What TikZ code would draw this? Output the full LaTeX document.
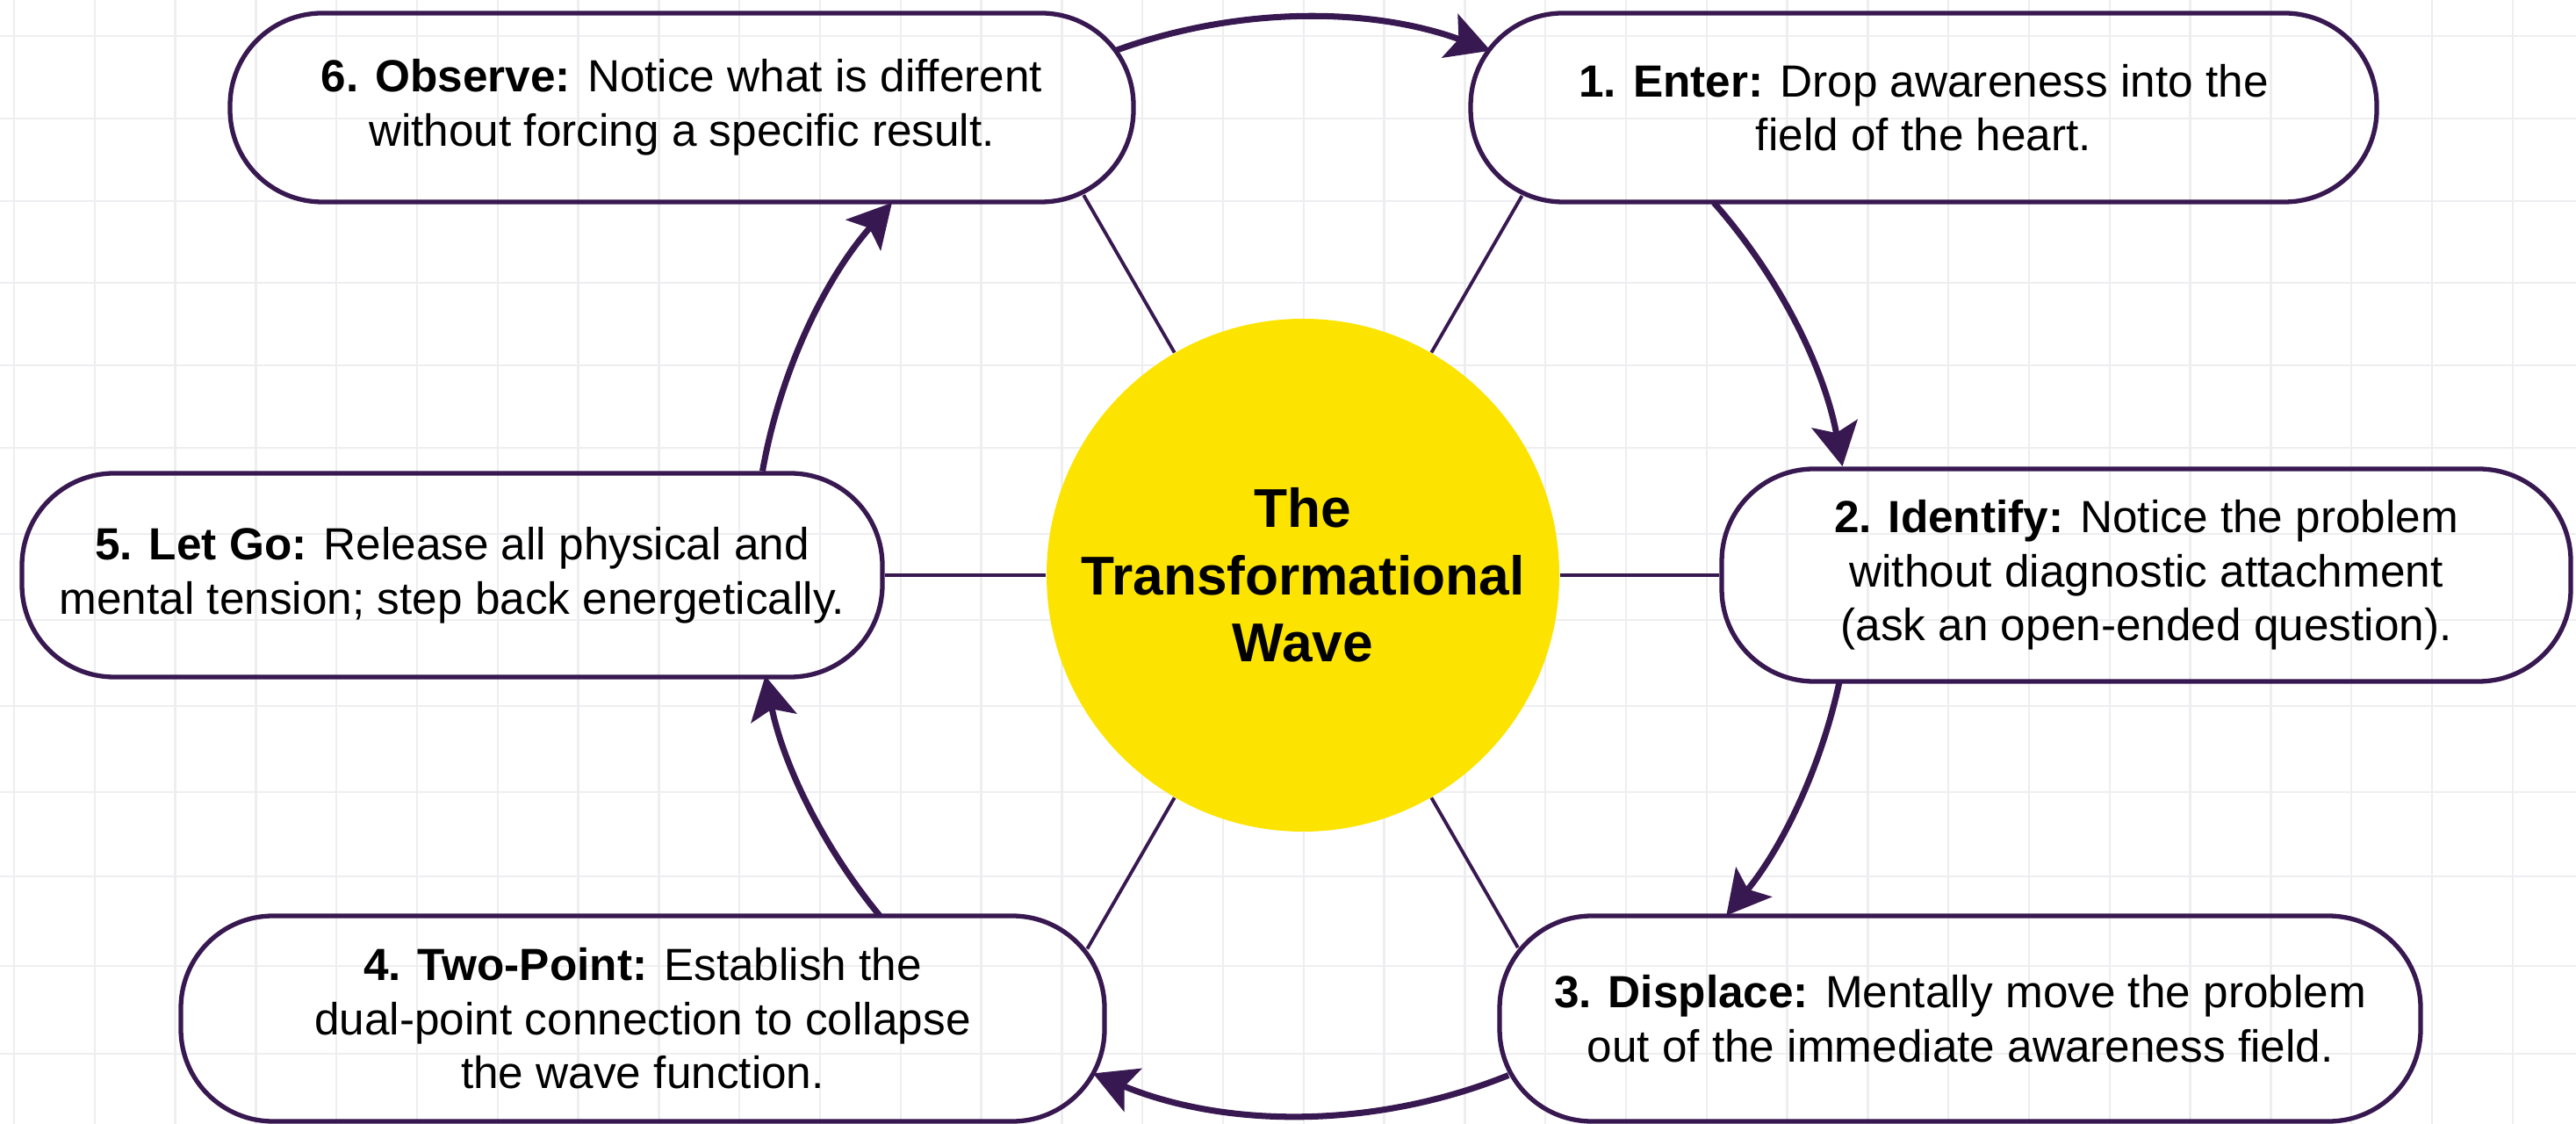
\documentclass[tikz,border=0pt]{standalone}
\usepackage{fontspec}
\setmainfont{Liberation Sans}
\usetikzlibrary{arrows.meta,intersections,calc}
\definecolor{ink}{RGB}{56,24,80}
\definecolor{sun}{RGB}{252,228,0}
\definecolor{gridc}{RGB}{238,238,241}
\begin{document}
\begin{tikzpicture}[
  gridline/.style={draw=gridc, line width=0.7pt},
  box/.style={draw=ink, line width=1.5pt, rounded corners=1.05cm, align=center,
              inner sep=0pt, text=black, font=\fontsize{14.6}{17.5}\selectfont},
  hubstyle/.style={circle, fill=sun, inner sep=0pt, minimum size=5.84cm, align=center,
              text=black, font=\bfseries\fontsize{17.7}{21.8}\selectfont},
  spoke/.style={draw=ink, line width=1.1pt},
  flow/.style={draw=ink, line width=2pt, -{Stealth[length=14pt, width=15pt, inset=3pt]}}
]
% canvas
\fill[white] (0,0) rectangle (29.34,-12.8);
\useasboundingbox (0,0) rectangle (29.34,-12.8);
% grid
\foreach \k in {0,...,31} \draw[gridline] ({0.16+0.918*\k},0) -- ({0.16+0.918*\k},-12.8);
\foreach \yy in {41,135,229,322,416,510,608,706,804,902,998,1100,1200}
  \draw[gridline] (0,{-\yy/100}) -- (29.34,{-\yy/100});

% hub
\node[hubstyle] (hub) at (14.84,-6.55) {The\\Transformational\\Wave};
\coordinate (ring) at (14.84,-6.45);

% boxes
\node[box, minimum width=10.29cm, minimum height=2.15cm] (n6) at (7.765,-1.225)
  {\textbf{6. Observe:} Notice what is different\\without forcing a specific result.};
\node[box, minimum width=10.32cm, minimum height=2.15cm] (n1) at (21.91,-1.225)
  {\textbf{1. Enter:} Drop awareness into the\\field of the heart.};
\node[box, minimum width=9.80cm, minimum height=2.32cm] (n5) at (5.15,-6.55)
  {\textbf{5. Let Go:} Release all physical and\\mental tension; step back energetically.};
\node[box, minimum width=9.67cm, minimum height=2.42cm] (n2) at (24.445,-6.55)
  {\textbf{2. Identify:} Notice the problem\\without diagnostic attachment\\(ask an open-ended question).};
\node[box, minimum width=10.52cm, minimum height=2.34cm] (n4) at (7.32,-11.60)
  {\textbf{4. Two-Point:} Establish the\\dual-point connection to collapse\\the wave function.};
\node[box, minimum width=10.49cm, minimum height=2.34cm] (n3) at (22.325,-11.60)
  {\textbf{3. Displace:} Mentally move the problem\\out of the immediate awareness field.};

% box outlines as paths for spoke ends
\path[name path=b6, rounded corners=1.05cm] (n6.south west) rectangle (n6.north east);
\path[name path=b1, rounded corners=1.05cm] (n1.south west) rectangle (n1.north east);
\path[name path=b4, rounded corners=1.05cm] (n4.south west) rectangle (n4.north east);
\path[name path=b3, rounded corners=1.05cm] (n3.south west) rectangle (n3.north east);
\path[name path=r6] (hub.center) -- ++(120:5.5);
\path[name path=r1] (hub.center) -- ++(60:5.5);
\path[name path=r4] (hub.center) -- ++(240:5.5);
\path[name path=r3] (hub.center) -- ++(300:5.5);
\path[name intersections={of=r6 and b6, by=e6}];
\path[name intersections={of=r1 and b1, by=e1}];
\path[name intersections={of=r4 and b4, by=e4}];
\path[name intersections={of=r3 and b3, by=e3}];

% spokes
\draw[spoke] (hub.120) -- (e6);
\draw[spoke] (hub.60) -- (e1);
\draw[spoke] (hub.240) -- (e4);
\draw[spoke] (hub.300) -- (e3);
\draw[spoke] (hub.west) -- (n5.east);
\draw[spoke] (hub.east) -- (n2.west);

% cycle arrows
\coordinate (s61) at ($(ring)+(110:6.25)$);
\coordinate (s12) at ($(ring)+(41.5:6.25)$);
\coordinate (s23) at ($(ring)+(-12:6.25)$);
\coordinate (s34) at ($(ring)+(-68:6.25)$);
\coordinate (s45) at ($(ring)+(219.5:6.25)$);
\coordinate (s56) at ($(ring)+(170:6.25)$);
\draw[flow] (s61) arc[start angle=110, end angle=70, radius=6.25];
\draw[flow] (s12) arc[start angle=41.5, end angle=10.5, radius=6.25];
\draw[flow] (s23) arc[start angle=-12, end angle=-39.5, radius=6.25];
\draw[flow] (s34) arc[start angle=-68, end angle=-112.5, radius=6.25];
\draw[flow] (s45) arc[start angle=219.5, end angle=191.5, radius=6.25];
\draw[flow] (s56) arc[start angle=170, end angle=138.5, radius=6.25];
\end{tikzpicture}
\end{document}
